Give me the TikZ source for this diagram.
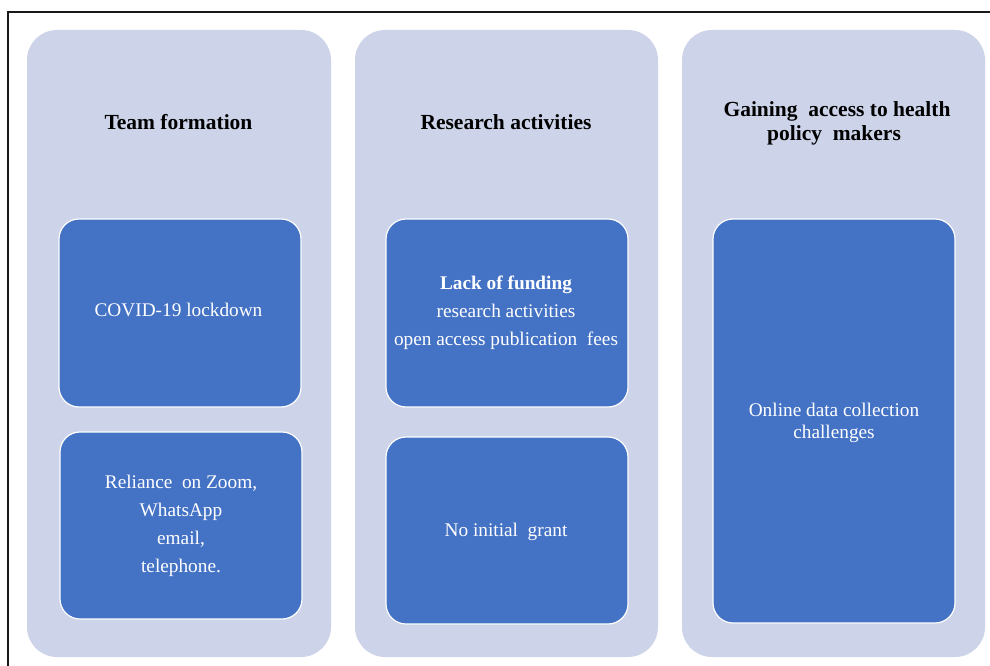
\documentclass[tikz,border=0pt]{standalone}
\usepackage{fontspec}
\setmainfont{Liberation Serif}
\definecolor{panelfill}{RGB}{205,211,232}
\definecolor{boxfill}{RGB}{68,114,196}
\definecolor{framecol}{RGB}{25,25,25}
\tikzset{
  panel/.style={fill=panelfill, draw=none, rounded corners=30pt},
  bluebox/.style={fill=boxfill, draw=white, line width=1.2pt, rounded corners=20pt},
  title/.style={font=\fontsize{21.5}{24}\selectfont\bfseries, text=black, anchor=base, inner sep=0pt},
  boxtext/.style={font=\fontsize{19.3}{22}\selectfont, text=white, anchor=base, inner sep=0pt},
  boldboxtext/.style={boxtext, font=\fontsize{19.3}{22}\selectfont\bfseries}
}
\begin{document}
\begin{tikzpicture}[x=1pt,y=-1pt]
\useasboundingbox (0,0) rectangle (990,666);
\fill[white] (0,0) rectangle (990,666);
% frame
\draw[framecol, line width=1.4pt] (8,666) -- (8,12) -- (990,12);
% panels
\draw[panel] (27,30) rectangle (331,657);
\draw[panel] (355,30) rectangle (658,657);
\draw[panel] (682,30) rectangle (985,657);
% boxes
\draw[bluebox] (59,219) rectangle (301,407);
\draw[bluebox] (60,432) rectangle (302,619);
\draw[bluebox] (386,219) rectangle (628,407);
\draw[bluebox] (386,437) rectangle (628,624);
\draw[bluebox] (713,219) rectangle (955,623);
% titles
\node[title] (t1) at (178.5,129) {Team formation};
\node[title] (t2) at (506,129) {Research activities};
\node[title] (t3a) at (837,117) {Gaining\ \ access to health};
\node[title] (t3b) at (834,140.5) {policy\ \ makers};
% box texts
\node[boxtext] (a1) at (178.5,316.7) {COVID-19 lockdown};
\node[boxtext] (b1) at (181,488) {Reliance\ \ on Zoom,};
\node[boxtext] (b2) at (181,516.5) {WhatsApp};
\node[boxtext] (b3) at (181,544.5) {email,};
\node[boxtext] (b4) at (181,572.5) {telephone.};
\node[boldboxtext] (c1) at (506,289) {Lack of funding};
\node[boxtext] (c2) at (506,317) {research activities};
\node[boxtext] (c3) at (506,345) {open access publication\ \ fees};
\node[boxtext] (d1) at (506,536.7) {No initial\ \ grant};
\node[boxtext] (e1) at (834,416.7) {Online data collection};
\node[boxtext] (e2) at (834,438.5) {challenges};
\end{tikzpicture}
\end{document}
